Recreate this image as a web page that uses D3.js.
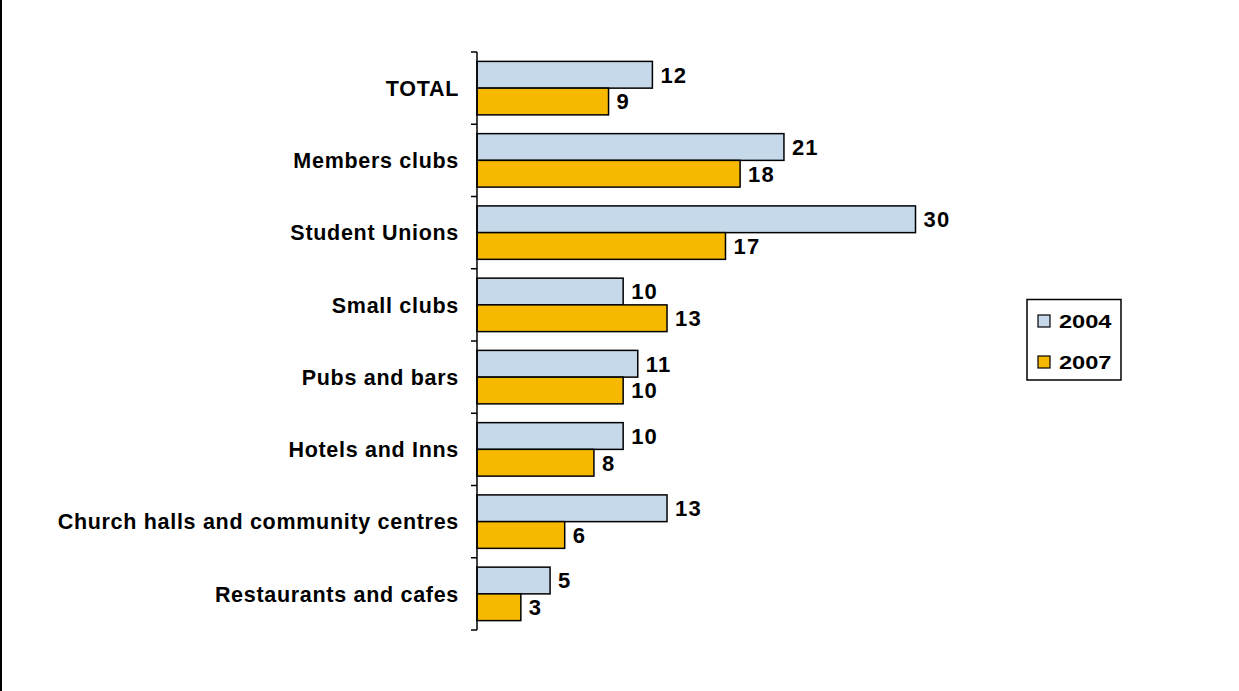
<!DOCTYPE html>
<html>
<head>
<meta charset="utf-8">
<script src="https://cdn.jsdelivr.net/npm/d3@7"></script>
<style>
  html, body { margin: 0; padding: 0; background: #fff; }
  svg { display: block; }
  text { font-family: "Liberation Sans", Arial, sans-serif; font-weight: bold; fill: #000; }
</style>
</head>
<body>
<svg id="chart" width="1239" height="691"></svg>
<script>
// Venue categories, top to bottom
const categories = [
  "TOTAL",
  "Members clubs",
  "Student Unions",
  "Small clubs",
  "Pubs and bars",
  "Hotels and Inns",
  "Church halls and community centres",
  "Restaurants and cafes"
];
const years = ["2004", "2007"];
const values2004 = [12, 21, 30, 10, 11, 10, 13, 5];
const values2007 = [9, 18, 17, 13, 10, 8, 6, 3];
const colors = ["#C5D9EA", "#F7B800"];

const svg = d3.select("#chart");

// frame line on the left edge
svg.append("line")
  .attr("x1", 1).attr("x2", 1).attr("y1", 0).attr("y2", 691)
  .attr("stroke", "#000").attr("stroke-width", 2);

const x = d3.scaleLinear().domain([0, 30]).range([477, 915.5]);
const y = d3.scaleBand().domain(categories).range([52, 630]).paddingInner(0.26).paddingOuter(0.13);
const ySub = d3.scaleBand().domain(years).range([0, y.bandwidth()]);

const series = years.map((yr, i) => ({
  year: yr,
  color: colors[i],
  values: (i === 0 ? values2004 : values2007)
}));

const g = svg.append("g");

series.forEach(s => {
  const rows = categories.map((c, i) => ({ cat: c, v: s.values[i] }));
  g.selectAll(null).data(rows).enter().append("rect")
    .attr("x", x(0))
    .attr("y", d => y(d.cat) + ySub(s.year))
    .attr("width", d => x(d.v) - x(0))
    .attr("height", ySub.bandwidth())
    .attr("fill", s.color)
    .attr("stroke", "#000")
    .attr("stroke-width", 1.5);

  g.selectAll(null).data(rows).enter().append("text")
    .attr("x", d => x(d.v) + 8)
    .attr("y", d => y(d.cat) + ySub(s.year) + ySub.bandwidth() / 2)
    .attr("dy", "0.36em")
    .attr("font-size", 22)
    .attr("letter-spacing", "1.2px")
    .text(d => d.v);
});

// category axis with ticks between categories
const boundaries = d3.range(categories.length + 1).map(i => 52 + i * (578 / categories.length));
const axisG = svg.append("g");
axisG.append("line")
  .attr("x1", x(0)).attr("x2", x(0))
  .attr("y1", boundaries[0]).attr("y2", boundaries[boundaries.length - 1])
  .attr("stroke", "#000").attr("stroke-width", 1.5);
axisG.selectAll(null).data(boundaries).enter().append("line")
  .attr("x1", x(0) - 6).attr("x2", x(0))
  .attr("y1", d => d).attr("y2", d => d)
  .attr("stroke", "#000").attr("stroke-width", 1.5);

axisG.selectAll(null).data(categories).enter().append("text")
  .attr("x", 459)
  .attr("y", d => y(d) + y.bandwidth() / 2)
  .attr("dy", "0.36em")
  .attr("text-anchor", "end")
  .attr("font-size", 21.5)
  .attr("letter-spacing", "0.7px")
  .text(d => d);

// legend
const legend = svg.append("g");
legend.append("rect")
  .attr("x", 1027).attr("y", 299.5).attr("width", 94).attr("height", 80.5)
  .attr("fill", "#fff").attr("stroke", "#000").attr("stroke-width", 1.5);
series.forEach((s, i) => {
  const cy = 321.5 + i * 41;
  legend.append("rect")
    .attr("x", 1038).attr("y", cy - 6.5).attr("width", 12).attr("height", 12)
    .attr("fill", s.color).attr("stroke", "#000").attr("stroke-width", 1.2);
  legend.append("text")
    .attr("transform", `translate(1059,${cy}) scale(1.35,1)`)
    .attr("dy", "0.36em")
    .attr("font-size", 17.5)
    .text(s.year);
});
</script>
</body>
</html>
